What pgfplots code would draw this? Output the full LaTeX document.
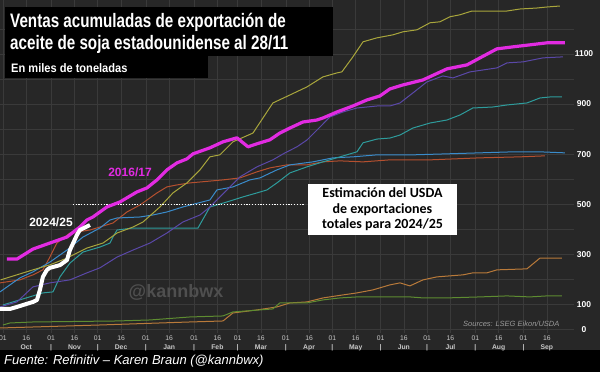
\documentclass[border=0pt]{standalone}
\usepackage{pgfplots}
\pgfplotsset{compat=1.18}
\usepackage{fontspec}
\setmainfont{Liberation Sans}
\newfontfamily\condfont[FakeStretch=0.78]{Liberation Sans}
\newfontfamily\subfont[FakeStretch=0.9]{Liberation Sans}
\newfontfamily\boxfont{Carlito}
\definecolor{bgdark}{HTML}{272727}
\definecolor{gridc}{HTML}{3A3A3A}
\definecolor{cmag}{HTML}{E22BE2}
\definecolor{colive}{HTML}{A9A63C}
\definecolor{cpurple}{HTML}{5A48A8}
\definecolor{cteal}{HTML}{2E9C9C}
\definecolor{cblue}{HTML}{3A8CCB}
\definecolor{crust}{HTML}{B5502F}
\definecolor{ctan}{HTML}{B97A3A}
\definecolor{cgreen}{HTML}{5E8C31}
\definecolor{ctick}{HTML}{C8C8C8}
\definecolor{cwm}{HTML}{4F4F4F}
\definecolor{csrc}{HTML}{9A9A9A}
\begin{document}
\begin{tikzpicture}[x=1pt,y=1pt]
\fill[bgdark] (0pt,0pt) rectangle (600pt,372pt);
\fill[black] (0pt,0pt) rectangle (600pt,22pt);
\begin{axis}[at={(0pt,39pt)}, anchor=south west, scale only axis,
  width=574pt, height=333pt,
  xmin=-1.9, xmax=367.5, ymin=-14, ymax=1315,
  axis line style={draw=none},
  major tick length=0pt, minor tick length=0pt,
  xtick={0,15,31,46,61,76,92,107,123,138,151,166,182,197,212,227,243,258,273,288,304,319,335,350},
  xticklabels={01\\\phantom{|},16\\\textbf{Oct},01\\\textbf{|},16\\\textbf{Nov},01\\\textbf{|},16\\\textbf{Dec},01\\\textbf{|},16\\\textbf{Jan},01\\\textbf{|},16\\\textbf{Feb},01\\\textbf{|},16\\\textbf{Mar},01\\\textbf{|},16\\\textbf{Apr},01\\\textbf{|},16\\\textbf{May},01\\\textbf{|},16\\\textbf{Jun},01\\\textbf{|},16\\\textbf{Jul},01\\\textbf{|},16\\\textbf{Aug},01\\\textbf{|},16\\\textbf{Sep}},
  xticklabel style={align=center, font=\fontsize{6.8}{8.2}\selectfont, text=ctick, inner sep=1pt, yshift=-2pt},
  ytick={0,100,300,500,700,900,1100},
  yticklabels={0,100,300,500,700,900,1100},
  minor ytick={200,400,600,800,1000,1200},
  yticklabel pos=right,
  yticklabel style={anchor=center, xshift=10pt, font=\bfseries\fontsize{8.5}{10}\selectfont, text=white},
  xmajorgrids, ymajorgrids, yminorgrids,
  major grid style={gridc, line width=0.5pt},
  minor grid style={gridc, line width=0.5pt},
]
% tan
\addplot[ctan, line width=1pt] coordinates {(-1.9,6) (62.4,18) (120.3,30) (141.6,34) (148,66) (163.4,78) (176.3,90) (184.7,106) (195.6,110) (206,126) (218.8,138) (227.8,146) (238.1,158) (249,178) (255.5,186) (261.9,174) (270.3,198) (279.3,210) (296,218) (302.4,226) (311.4,226) (317.9,238) (337.2,242) (345.6,285) (359.7,285)};
% green
\addplot[cgreen, line width=1pt] coordinates {(0,18) (4.5,26) (19.3,30) (73.4,34) (94.6,38) (120.3,50) (141.6,54) (148,70) (173.7,82) (178.2,106) (195.6,106) (205.9,118) (216.9,126) (227.8,130) (249,130) (261.9,130) (270.3,126) (285.7,126) (306.9,130) (324.3,134) (339.1,130) (350,134) (359.7,134)};
% rust
\addplot[crust, line width=1pt] coordinates {(-1.9,186) (10.9,198) (19.3,218) (25.7,238) (30.2,289) (34.7,345) (43.1,385) (56,397) (70.8,425) (79.8,469) (88.2,497) (99.1,545) (105.5,569) (112,577) (120.3,585) (141.6,597) (152.5,605) (163.4,629) (171.8,645) (182.8,657) (195.6,657) (206,669) (216.9,673) (231.7,669) (249,677) (274.8,677) (306.9,685) (332.7,689) (348.8,693)};
% blue
\addplot[cblue, line width=1pt] coordinates {(-1.9,150) (10.9,206) (19.3,230) (30.2,269) (41.2,317) (51.5,369) (62.4,405) (68.9,437) (73.4,445) (88.2,449) (96.5,457) (105.5,469) (115.8,489) (133.2,517) (137.7,557) (148,569) (158.9,597) (165.4,605) (176.3,637) (184.7,657) (199.5,669) (212.4,685) (225.2,689) (240.7,697) (263.8,697) (285.7,701) (306.9,705) (328.2,709) (345.6,709) (361.6,705)};
% teal
\addplot[cteal, line width=1pt] coordinates {(0,98) (25.7,146) (32.2,150) (36.7,210) (43.1,265) (51.5,309) (62.4,329) (68.9,345) (70.8,369) (73.4,397) (83.7,405) (125.5,405) (133.2,489) (144.1,509) (154.4,529) (163.4,545) (169.9,557) (176.3,585) (184.7,625) (195.6,649) (205.9,669) (216.9,689) (227.8,709) (231.7,745) (240.7,760) (249,764) (255.5,776) (263.8,804) (274.8,824) (285.7,836) (294.1,856) (302.4,884) (315.3,888) (324.3,896) (337.2,904) (345.6,924) (352,928) (359.7,928)};
% purple
\addplot[cpurple, line width=1pt] coordinates {(-1.9,90) (9,110) (19.3,170) (30.2,186) (43.1,198) (54,226) (62.4,246) (73.4,289) (83.7,317) (94.6,345) (105.5,385) (115.8,429) (126.8,457) (133.2,489) (144.1,557) (152.5,609) (163.4,649) (173.7,677) (181.5,705) (189.2,729) (195.6,756) (204,808) (210.4,848) (218.8,868) (227.8,884) (240.7,892) (249,892) (255.5,904) (263.8,944) (272.8,988) (283.1,1012) (289.6,1004) (300.5,1028) (317.9,1044) (324.3,1064) (334.6,1068) (347.5,1084) (360.4,1088)};
% olive
\addplot[colive, line width=1pt] coordinates {(-1.5,198) (19.3,238) (30.2,258) (41.2,285) (54,325) (64.4,345) (73.4,385) (83.7,409) (90.1,429) (101,489) (109.4,545) (118.4,585) (126.8,637) (133.2,689) (139.6,697) (148,749) (160.9,784) (167.3,844) (173.7,904) (184.7,936) (195.6,968) (205.9,1008) (214.9,1024) (218.1,1028) (225.2,1088) (231.7,1148) (240.7,1164) (251,1176) (257.4,1188) (266.4,1196) (274.8,1224) (281.2,1228) (287.6,1248) (294.1,1256) (301.8,1271) (306.9,1271) (324.3,1271) (332.7,1279) (343.6,1283) (350,1287) (358.4,1291)};
% USDA estimate
\addplot[white, line width=1.2pt, dash pattern=on 1.2pt off 1.6pt] coordinates {(45,500) (194,500)};
% 2016/17
\addplot[cmag, line width=3.2pt, line join=round] coordinates {(2.6,281) (9,281) (19.3,321) (30.2,345) (41.2,369) (49.5,409) (54,437) (57.9,449) (66.9,489) (75.3,509) (86.2,549) (92.7,565) (99.1,597) (105.5,637) (112,665) (118.4,681) (122.3,701) (133.2,725) (141.6,749) (150.6,765) (157.7,729) (163.4,741) (171.8,757) (178.2,784) (184.7,804) (193,828) (202,836) (205.9,844) (214.9,868) (225.2,892) (234.2,916) (242.6,932) (249,960) (257.4,976) (270.3,996) (285.7,1040) (298.6,1056) (307,1084) (317.9,1120) (328.2,1128) (339.1,1136) (350,1144) (361.6,1144)};
% 2024/25
\addplot[white, line width=4pt, line join=round] coordinates {(-1.9,82) (4.5,82) (9,90) (19.3,110) (21.9,118) (23.8,158) (25.7,210) (28.3,238) (30.2,246) (36.7,257) (41.2,277) (43.1,317) (47.6,377) (49.5,397) (56,417)};
\end{axis}
% title box
\fill[black] (5pt,365pt) rectangle (333pt,316pt);
\fill[black] (5pt,316pt) rectangle (208pt,294pt);
\node[anchor=base west, inner sep=0, text=white] at (10pt,344pt) {\condfont\bfseries\fontsize{19.5}{21}\selectfont Ventas acumuladas de exportación de};
\node[anchor=base west, inner sep=0, text=white] at (10pt,322pt) {\condfont\bfseries\fontsize{19.5}{21}\selectfont aceite de soja estadounidense al 28/11};
\node[anchor=base west, inner sep=0, text=white] at (11pt,299pt) {\subfont\bfseries\fontsize{12.3}{14}\selectfont En miles de toneladas};
% annotations
\node[anchor=base, inner sep=0, text=cmag, font=\bfseries\fontsize{12}{14}\selectfont] at (130pt,195pt) {2016/17};
\node[anchor=base, inner sep=0, text=white, font=\bfseries\fontsize{12}{14}\selectfont] at (51pt,145pt) {2024/25};
\node[anchor=base, inner sep=0, text=cwm, font=\bfseries\fontsize{18}{20}\selectfont] at (176pt,74pt) {@kannbwx};
\fill[white] (308pt,188pt) rectangle (457pt,137pt);
\node[align=center, inner sep=0, text=black, font=\boxfont\bfseries\fontsize{14}{15.5}\selectfont] at (382.5pt,162.5pt) {Estimación del USDA\\de exportaciones\\totales para 2024/25};
\node[anchor=base west, inner sep=0, text=csrc, font=\itshape\fontsize{7.5}{9}\selectfont] at (463pt,45pt) {Sources: LSEG Eikon/USDA};
\node[anchor=base west, inner sep=0, text=white, font=\itshape\fontsize{13}{15}\selectfont] at (4pt,7pt) {Fuente: Refinitiv – Karen Braun (@kannbwx)};
\pgfresetboundingbox
\useasboundingbox (0pt,0pt) rectangle (600pt,372pt);
\end{tikzpicture}
\end{document}
